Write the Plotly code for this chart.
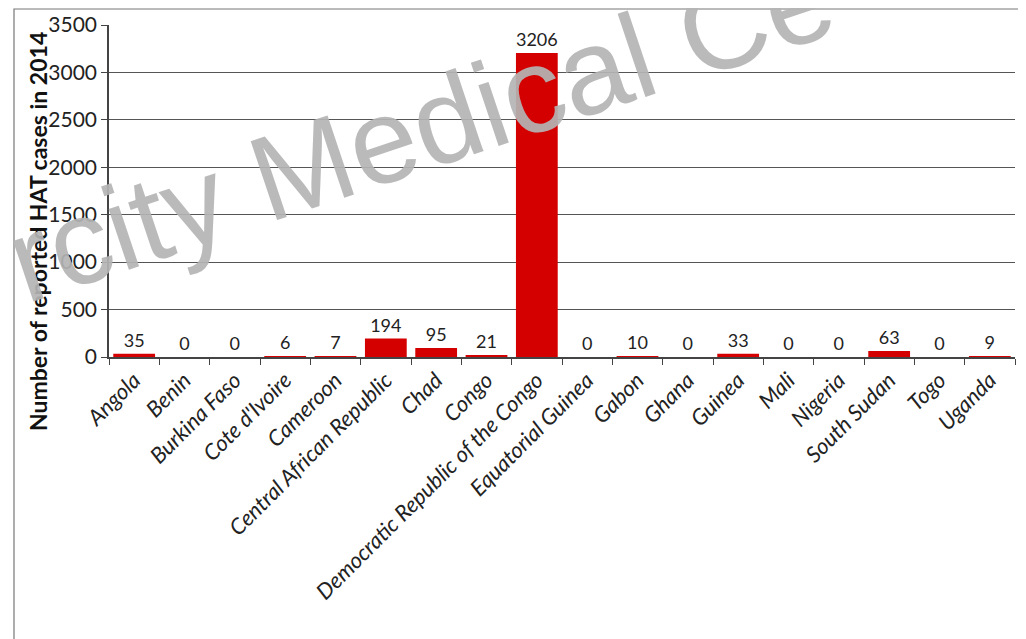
import plotly.graph_objects as go

countries = ["Angola", "Benin", "Burkina Faso", "Cote d'Ivoire", "Cameroon",
             "Central African Republic", "Chad", "Congo",
             "Democratic Republic of the Congo", "Equatorial Guinea", "Gabon",
             "Ghana", "Guinea", "Mali", "Nigeria", "South Sudan", "Togo", "Uganda"]
cases = [35, 0, 0, 6, 7, 194, 95, 21, 3206, 0, 10, 0, 33, 0, 0, 63, 0, 9]
y_ticks = [0, 500, 1000, 1500, 2000, 2500, 3000, 3500]
y_title = "Number of reported HAT cases in 2014"
watermark = "rcity Medical Ce"

# page is offset by the 8px body margin
L, T, W, H = 101, 17, 906, 332

fig = go.Figure()
fig.add_trace(go.Bar(
    x=countries, y=cases,
    marker=dict(color="#d40000", line=dict(width=0)),
    text=[str(v) for v in cases], textposition="outside",
    textfont=dict(family="Lato", size=18, color="#222"),
    cliponaxis=False,
))

fig.update_layout(
    width=1026, height=639,
    margin=dict(l=L, r=1026 - L - W, t=T, b=639 - T - H),
    paper_bgcolor="white", plot_bgcolor="white",
    bargap=0.17, showlegend=False,
    xaxis=dict(
        type="category", tickangle=-45, tickson="boundaries",
        ticks="outside", ticklen=6, tickcolor="#444",
        showline=True, linecolor="#444", linewidth=1.5,
        tickfont=dict(family="Lato", size=22, color="#222", style="italic"),
        showgrid=False, automargin=False,
    ),
    yaxis=dict(
        range=[0, 3500], tickvals=y_ticks,
        ticks="outside", ticklen=6, tickcolor="#444",
        showline=True, linecolor="#444", linewidth=1.5,
        showgrid=True, gridcolor="#555", gridwidth=1.2,
        tickfont=dict(family="Lato", size=21, color="#222"),
        zeroline=False, automargin=False,
    ),
)

fig.add_annotation(
    text=y_title, xref="paper", yref="paper",
    x=(30 - L) / W, y=(T + H - 224) / H,
    xanchor="center", yanchor="middle",
    textangle=-90, showarrow=False,
    font=dict(family="Lato", size=23, color="#111", weight="bold"),
)

# outer frame
fig.add_shape(type="rect", xref="paper", yref="paper",
              x0=(6 - L) / W, x1=(1014 - L) / W,
              y0=(T + H - 700) / H, y1=(T + H - 1) / H,
              line=dict(color="#777", width=1.2), layer="below")

fig.add_annotation(
    text=watermark, xref="paper", yref="paper",
    x=(412 - L) / W, y=(T + H - 120) / H,
    xanchor="center", yanchor="middle",
    textangle=-18.5, showarrow=False,
    font=dict(family="Liberation Sans", size=121, color="rgba(180,180,180,0.92)"),
)

fig.write_html("out.html")
